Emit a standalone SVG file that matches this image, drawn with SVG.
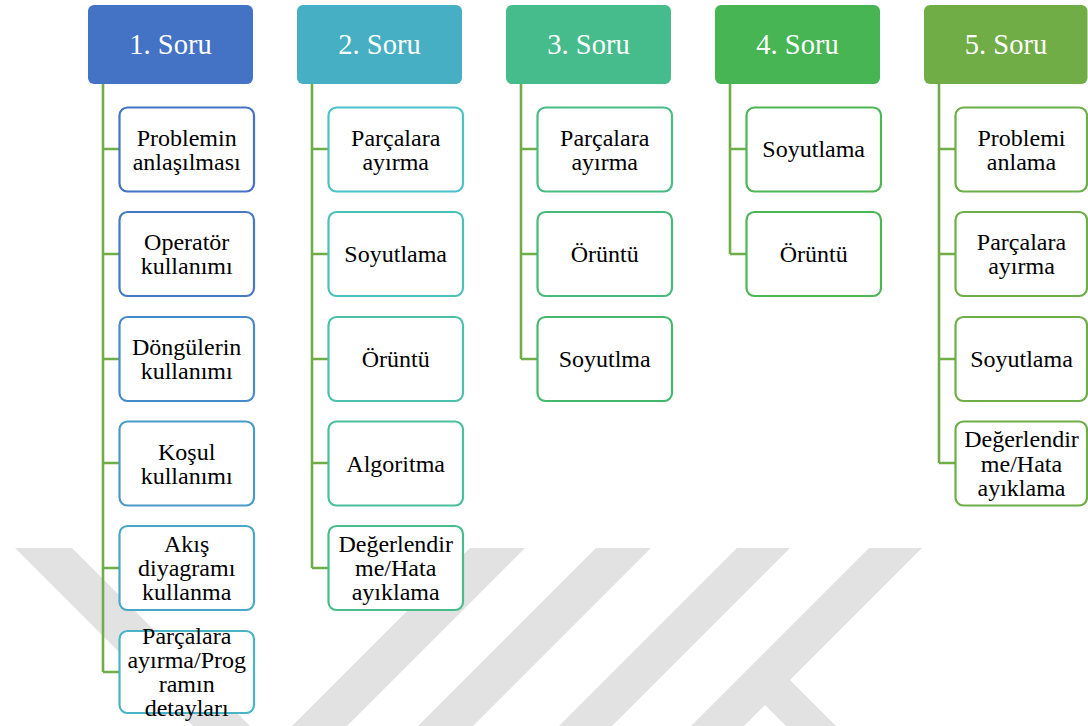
<svg xmlns="http://www.w3.org/2000/svg" width="1088" height="726" viewBox="0 0 1088 726">
<style>
.hd{stroke:none}
.hdt{font-family:"Liberation Serif","Times New Roman",serif;font-size:28.5px;fill:#ffffff;text-anchor:middle}
.ch{fill:#ffffff;stroke-width:2.2}
.cht{font-family:"Liberation Serif","Times New Roman",serif;font-size:24px;fill:#000000;text-anchor:middle}
.cn{fill:none;stroke:#70AD47;stroke-width:2.6}
.wm{fill:#E2E2E2;stroke:none}
</style>
<g id="watermark">
<polygon class="wm" points="15,548 72,548 250,726 193,726"/>
<polygon class="wm" points="470,548 525,548 347,726 292,726"/>
<polygon class="wm" points="596,548 651,548 473,726 418,726"/>
<polygon class="wm" points="737,548 790,548 612,726 559,726"/>
<polygon class="wm" points="869,548 922,548 744,726 691,726"/>
<polygon class="wm" points="760,700 785,675 836,726 786,726"/>
</g>
<g id="connectors">
<path class="cn" d="M103,84 V672 M103,149 H119.5 M103,254 H119.5 M103,359 H119.5 M103,463 H119.5 M103,568 H119.5 M103,672 H119.5"/>
<path class="cn" d="M312,84 V568 M312,149 H328.5 M312,254 H328.5 M312,359 H328.5 M312,463 H328.5 M312,568 H328.5"/>
<path class="cn" d="M521,84 V359 M521,149 H537.5 M521,254 H537.5 M521,359 H537.5"/>
<path class="cn" d="M730,84 V254 M730,149 H746.5 M730,254 H746.5"/>
<path class="cn" d="M939,84 V463 M939,149 H955.5 M939,254 H955.5 M939,359 H955.5 M939,463 H955.5"/>
</g>
<g id="h1"><rect class="hd" x="88" y="5" width="165" height="79" rx="6" fill="#4472C4"/><text class="hdt" x="170.5" y="54">1. Soru</text></g>
<g id="h2"><rect class="hd" x="297" y="5" width="165" height="79" rx="6" fill="#46AFC3"/><text class="hdt" x="379.5" y="54">2. Soru</text></g>
<g id="h3"><rect class="hd" x="506" y="5" width="165" height="79" rx="6" fill="#46BC8C"/><text class="hdt" x="588.5" y="54">3. Soru</text></g>
<g id="h4"><rect class="hd" x="715" y="5" width="165" height="79" rx="6" fill="#47B553"/><text class="hdt" x="797.5" y="54">4. Soru</text></g>
<g id="h5"><rect class="hd" x="924" y="5" width="163.5" height="79" rx="6" fill="#70AD47"/><text class="hdt" x="1006" y="54">5. Soru</text></g>

<g id="c1a"><rect class="ch" x="119.5" y="107.5" width="134.5" height="84" rx="8" stroke="#4472C4"/><text class="cht" x="186.7" y="145.5">Problemin<tspan x="186.7" dy="24.3">anlaşılması</tspan></text></g>
<g id="c1b"><rect class="ch" x="119.5" y="212" width="134.5" height="84" rx="8" stroke="#4678C5"/><text class="cht" x="186.7" y="250">Operatör<tspan x="186.7" dy="24.3">kullanımı</tspan></text></g>
<g id="c1c"><rect class="ch" x="119.5" y="317" width="134.5" height="84" rx="8" stroke="#4889C8"/><text class="cht" x="186.7" y="355">Döngülerin<tspan x="186.7" dy="24.3">kullanımı</tspan></text></g>
<g id="c1d"><rect class="ch" x="119.5" y="421.5" width="134.5" height="84" rx="8" stroke="#4A9AC8"/><text class="cht" x="186.7" y="459.5">Koşul<tspan x="186.7" dy="24.3">kullanımı</tspan></text></g>
<g id="c1e"><rect class="ch" x="119.5" y="526" width="134.5" height="84" rx="8" stroke="#48A6C6"/><text class="cht" x="186.7" y="551.7">Akış<tspan x="186.7" dy="24.3">diyagramı</tspan><tspan x="186.7" dy="24.3">kullanma</tspan></text></g>
<g id="c1f"><rect class="ch" x="119.5" y="631" width="134.5" height="82" rx="8" stroke="#48B4C6"/><text class="cht" x="186.7" y="643.5">Parçalara<tspan x="186.7" dy="24.3">ayırma/Prog</tspan><tspan x="186.7" dy="24.3">ramın</tspan><tspan x="186.7" dy="24.3">detayları</tspan></text></g>

<g id="c2a"><rect class="ch" x="328.5" y="107.5" width="134.5" height="84" rx="8" stroke="#4BC2C8"/><text class="cht" x="395.7" y="145.5">Parçalara<tspan x="395.7" dy="24.3">ayırma</tspan></text></g>
<g id="c2b"><rect class="ch" x="328.5" y="212" width="134.5" height="84" rx="8" stroke="#4BC1BA"/><text class="cht" x="395.7" y="262">Soyutlama</text></g>
<g id="c2c"><rect class="ch" x="328.5" y="317" width="134.5" height="84" rx="8" stroke="#4BC0AC"/><text class="cht" x="395.7" y="367">Örüntü</text></g>
<g id="c2d"><rect class="ch" x="328.5" y="421.5" width="134.5" height="84" rx="8" stroke="#4ABF9C"/><text class="cht" x="395.7" y="471.5">Algoritma</text></g>
<g id="c2e"><rect class="ch" x="328.5" y="526" width="134.5" height="84" rx="8" stroke="#48BD8C"/><text class="cht" x="395.7" y="551.7">Değerlendir<tspan x="395.7" dy="24.3">me/Hata</tspan><tspan x="395.7" dy="24.3">ayıklama</tspan></text></g>

<g id="c3a"><rect class="ch" x="537.5" y="107.5" width="134.5" height="84" rx="8" stroke="#47BC84"/><text class="cht" x="604.7" y="145.5">Parçalara<tspan x="604.7" dy="24.3">ayırma</tspan></text></g>
<g id="c3b"><rect class="ch" x="537.5" y="212" width="134.5" height="84" rx="8" stroke="#46BA78"/><text class="cht" x="604.7" y="262">Örüntü</text></g>
<g id="c3c"><rect class="ch" x="537.5" y="317" width="134.5" height="84" rx="8" stroke="#45B86C"/><text class="cht" x="604.7" y="367">Soyutlma</text></g>

<g id="c4a"><rect class="ch" x="746.5" y="107.5" width="134.5" height="84" rx="8" stroke="#4CB555"/><text class="cht" x="813.7" y="157">Soyutlama</text></g>
<g id="c4b"><rect class="ch" x="746.5" y="212" width="134.5" height="84" rx="8" stroke="#4CB555"/><text class="cht" x="813.7" y="262">Örüntü</text></g>

<g id="c5a"><rect class="ch" x="955.5" y="107.5" width="131.5" height="84" rx="8" stroke="#6DAE48"/><text class="cht" x="1021.5" y="145.5">Problemi<tspan x="1021.5" dy="24.3">anlama</tspan></text></g>
<g id="c5b"><rect class="ch" x="955.5" y="212" width="131.5" height="84" rx="8" stroke="#6DAE48"/><text class="cht" x="1021.5" y="250">Parçalara<tspan x="1021.5" dy="24.3">ayırma</tspan></text></g>
<g id="c5c"><rect class="ch" x="955.5" y="317" width="131.5" height="84" rx="8" stroke="#6DAE48"/><text class="cht" x="1021.5" y="367">Soyutlama</text></g>
<g id="c5d"><rect class="ch" x="955.5" y="421.5" width="131.5" height="84" rx="8" stroke="#6DAE48"/><text class="cht" x="1021.5" y="447.2">Değerlendir<tspan x="1021.5" dy="24.3">me/Hata</tspan><tspan x="1021.5" dy="24.3">ayıklama</tspan></text></g>
</svg>
